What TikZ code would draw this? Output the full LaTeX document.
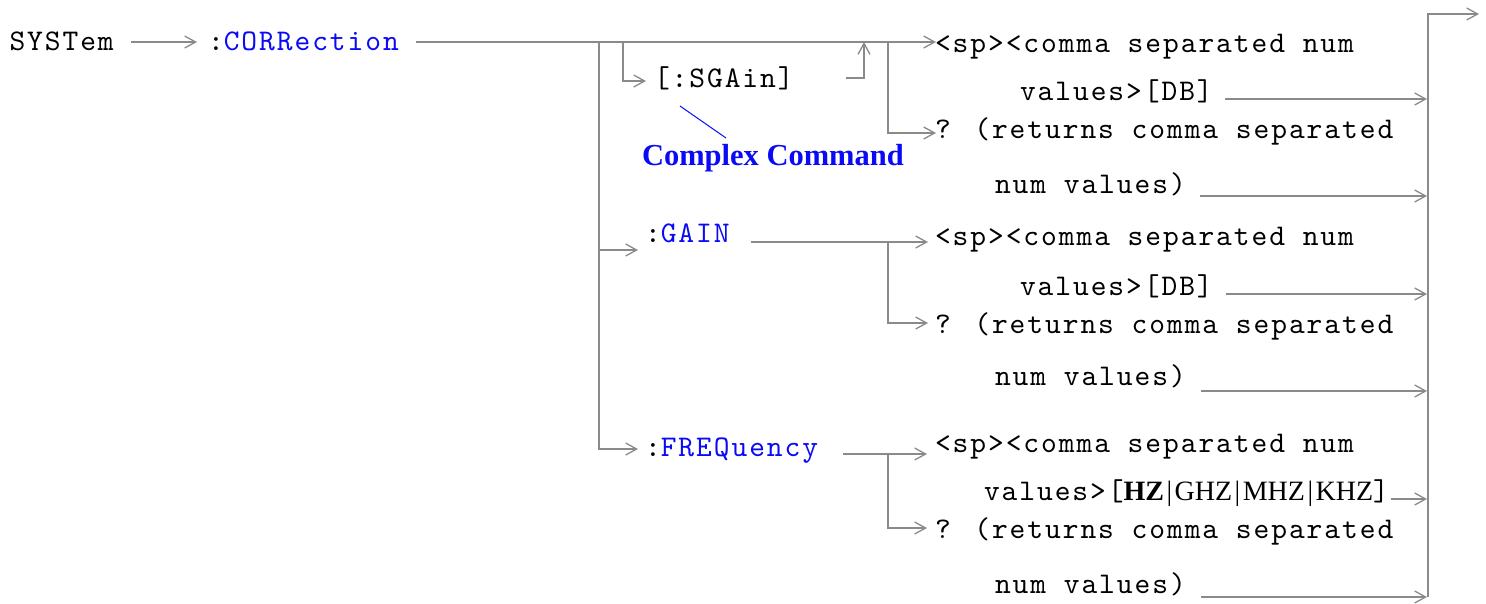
\documentclass[tikz,border=0pt]{standalone}
\usepackage{fontspec}
\setmainfont{Liberation Serif}
\newfontfamily\cmdmono{lmmono10-regular.otf}[LetterSpace=6.5]
\usetikzlibrary{arrows.meta}
\definecolor{linec}{RGB}{138,138,138}
\definecolor{cmdblue}{RGB}{10,10,245}
\newcommand\monofont{\cmdmono\fontsize{30}{34}\selectfont}
\newcommand\serfont{\rmfamily\fontsize{28}{34}\selectfont}
\newcommand\unitbar{\kern2.5pt|\kern2.5pt}
\tikzset{
  lbl/.style={anchor=base west, inner sep=0pt, outer sep=0pt, font=\monofont, text=black},
  arr/.style={draw=linec, line width=1.3pt, -{Straight Barb[length=11pt,width=12pt]}},
  note/.style={anchor=base west, inner sep=0pt, outer sep=0pt, text=cmdblue,
    font=\rmfamily\bfseries\fontsize{30.5}{36}\selectfont},
}
\begin{document}
\begin{tikzpicture}[x=1pt,y=-1pt]
\useasboundingbox (0,0) rectangle (1486,603);
% text nodes
\node[lbl] (sys) at (9.5,50) {SYSTem};
\node[lbl] (corr) at (208,50) {:\textcolor{cmdblue}{CORRection}};
\node[lbl] (sgain) at (654,87) {[:SGAin]};
\node[note] (cc) at (642,165) {Complex Command};
\node[lbl] (gain) at (645,242) {:\textcolor{cmdblue}{GAIN}};
\node[lbl] (freq) at (645,456) {:\textcolor{cmdblue}{FREQuency}};
% outputs of CORRection / SGAin
\node[lbl] (s1) at (935,52) {<sp><comma separated num};
\node[lbl] (v1) at (1020,100) {values>[DB]};
\node[lbl] (q1) at (935,138) {? (returns comma separated};
\node[lbl] (n1) at (995,193) {num values)};
% outputs of GAIN
\node[lbl] (s2) at (935,245) {<sp><comma separated num};
\node[lbl] (v2) at (1020,295) {values>[DB]};
\node[lbl] (q2) at (935,333) {? (returns comma separated};
\node[lbl] (n2) at (995,385) {num values)};
% outputs of FREQuency
\node[lbl] (s3) at (935,452) {<sp><comma separated num};
\node[lbl] (v3) at (984,500) {values>[{\serfont\bfseries HZ}{\serfont\unitbar GHZ\unitbar MHZ\unitbar KHZ}]};
\node[lbl] (q3) at (935,538) {? (returns comma separated};
\node[lbl] (n3) at (995,593) {num values)};
% junction coordinates
\coordinate (a0) at (131,42);
\coordinate (a1) at (197,42);
\coordinate (m0) at (416,42);
\coordinate (mB) at (599,42);
\coordinate (mS) at (623,42);
\coordinate (mR) at (864,42);
\coordinate (mQ) at (888,42);
\coordinate (m1) at (936,42);
\coordinate (bG) at (599,250);
\coordinate (tG) at (638,250);
\coordinate (bF) at (599,449);
\coordinate (tF) at (638,449);
\coordinate (bS) at (623,81);
\coordinate (tS) at (646,81);
\coordinate (rS0) at (846,78);
\coordinate (rS1) at (864,78);
\coordinate (bQ1) at (888,133);
\coordinate (tQ1) at (936,133);
\coordinate (g0) at (751,242);
\coordinate (gQ) at (888,242);
\coordinate (g1) at (928,242);
\coordinate (bQ2) at (888,323);
\coordinate (tQ2) at (928,323);
\coordinate (f0) at (843,454);
\coordinate (fQ) at (888,454);
\coordinate (f1) at (927,454);
\coordinate (bQ3) at (888,528);
\coordinate (tQ3) at (927,528);
% right bus
\coordinate (busTop) at (1428,14);
\coordinate (busBot) at (1428,597);
\coordinate (out) at (1479,14);
\coordinate (e1a) at (1225,99);   \coordinate (e1b) at (1427,99);
\coordinate (e2a) at (1200,196);  \coordinate (e2b) at (1427,196);
\coordinate (e3a) at (1226,294);  \coordinate (e3b) at (1427,294);
\coordinate (e4a) at (1201,391);  \coordinate (e4b) at (1427,391);
\coordinate (e5a) at (1391,499);  \coordinate (e5b) at (1427,499);
\coordinate (e6a) at (1201,597);  \coordinate (e6b) at (1427,597);
\coordinate (ccA) at (680,106);
\coordinate (ccB) at (726,138);
% connectors
\draw[arr] (a0) -- (a1);
\draw[arr] (m0) -- (m1);
\draw[arr] (mB) -- (bG) -- (tG);
\draw[arr] (bG) -- (bF) -- (tF);
\draw[arr] (mS) -- (bS) -- (tS);
\draw[arr] (rS0) -- (rS1) -- (mR);
\draw[arr] (mQ) -- (bQ1) -- (tQ1);
\draw[arr] (g0) -- (g1);
\draw[arr] (gQ) -- (bQ2) -- (tQ2);
\draw[arr] (f0) -- (f1);
\draw[arr] (fQ) -- (bQ3) -- (tQ3);
\draw[arr] (e1a) -- (e1b);
\draw[arr] (e2a) -- (e2b);
\draw[arr] (e3a) -- (e3b);
\draw[arr] (e4a) -- (e4b);
\draw[arr] (e5a) -- (e5b);
\draw[arr] (e6a) -- (e6b);
\draw[arr] (busBot) -- (busTop) -- (out);
\draw[cmdblue, line width=1pt] (ccA) -- (ccB);
\end{tikzpicture}
\end{document}
